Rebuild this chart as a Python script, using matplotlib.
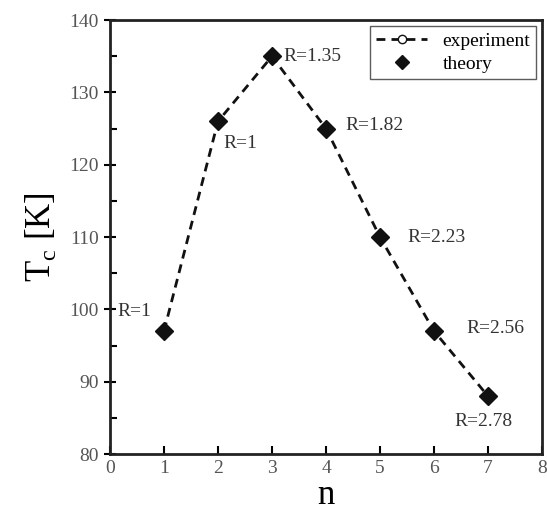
import matplotlib

matplotlib.use("Agg")
import matplotlib.pyplot as plt
from matplotlib.ticker import MultipleLocator

n_values = [1, 2, 3, 4, 5, 6, 7]
tc_experiment = [97, 126, 135, 125, 110, 97, 88]
tc_theory = [97, 126, 135, 125, 110, 97, 88]
r_labels = ["R=1", "R=1", "R=1.35", "R=1.82", "R=2.23", "R=2.56", "R=2.78"]
# label offsets in points (dx, dy) and alignment
label_offsets = [(-9, 14), (4, -16), (8, 0), (14, 2), (20, 0), (23, 2), (-3, -18)]
label_align = ["right", "left", "left", "left", "left", "left", "center"]

plt.rcParams["font.family"] = ["Liberation Serif", "DejaVu Serif"]

fig = plt.figure(figsize=(5.47, 5.16), dpi=100)
ax = fig.add_axes([0.201, 0.120, 0.790, 0.841])

ax.plot(n_values, tc_experiment, linestyle=(0, (3.2, 2.2)), color="#111111", linewidth=2.0,
        marker="o", markersize=6, markerfacecolor="white", markeredgecolor="#111111",
        label="experiment")
ax.plot(n_values, tc_theory, linestyle="none", marker="D", markersize=9.5,
        color="#111111", label="theory")

for x, y, txt, (dx, dy), ha in zip(n_values, tc_theory, r_labels, label_offsets, label_align):
    ax.annotate(txt, (x, y), xytext=(dx, dy), textcoords="offset points",
                ha=ha, va="center", fontsize=14, color="#333333")

ax.set_xlim(0, 8)
ax.set_ylim(80, 140)
ax.xaxis.set_major_locator(MultipleLocator(1))
ax.yaxis.set_major_locator(MultipleLocator(10))
ax.yaxis.set_minor_locator(MultipleLocator(5))
ax.tick_params(axis="x", which="major", direction="in", length=6, width=1.5,
               labelsize=14, labelcolor="#555555", pad=4)
ax.tick_params(axis="y", which="major", direction="inout", length=9, width=1.5,
               labelsize=14, labelcolor="#555555")
ax.tick_params(axis="y", which="minor", direction="in", length=5, width=1.5)
for spine in ax.spines.values():
    spine.set_linewidth(2)
    spine.set_color("#222222")

ax.set_xlabel("n", fontsize=25, labelpad=2)
ax.set_ylabel(r"T$_\mathregular{c}$ [K]", fontsize=25, labelpad=8)

leg = ax.legend(loc="upper right", fontsize=14, frameon=True, fancybox=False,
                edgecolor="#333333", handlelength=2.6, borderpad=0.3,
                labelspacing=0.3, borderaxespad=0, bbox_to_anchor=(0.986, 0.986))
leg.get_frame().set_linewidth(1.0)
leg.legend_handles[1].set_markersize(7)

fig.savefig("out.png", dpi=100)
